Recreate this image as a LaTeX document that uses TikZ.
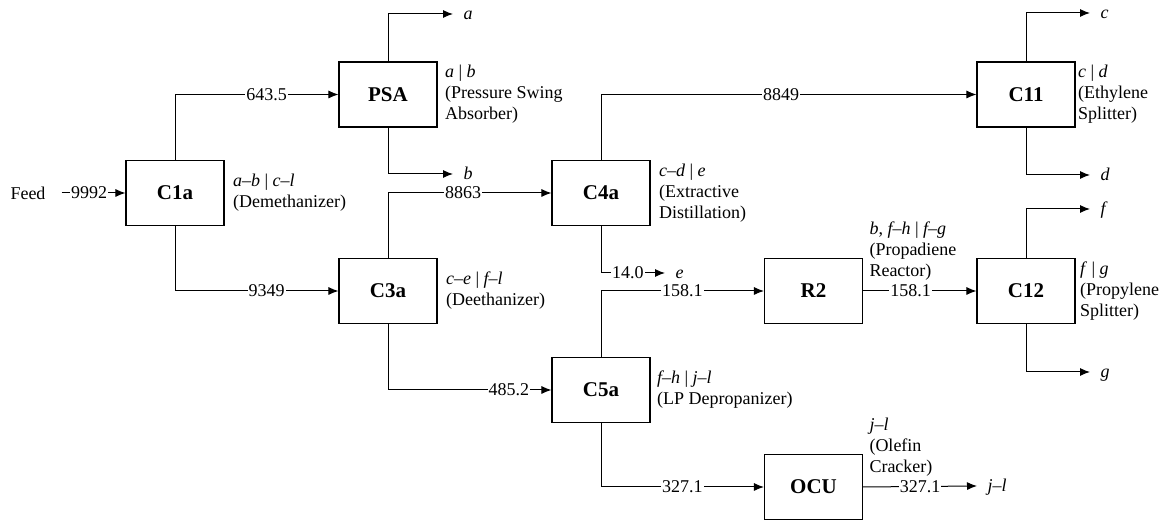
\documentclass[tikz,border=0pt]{standalone}
\usepackage{fontspec}
\setmainfont{Liberation Serif}
\usetikzlibrary{arrows.meta}

\begin{document}
\begin{tikzpicture}[x=0.5pt, y=-0.5pt, line width=0.5pt, >={Latex[length=5pt,width=4pt]}]
	% Stili per unità, note, portate e uscite
	\tikzset{
		unita/.style={draw, line width=0.55pt, minimum width=49pt, minimum height=32.5pt, inner sep=0pt, font=\fontsize{10.5}{12}\selectfont\bfseries},
		nota/.style={anchor=west, align=left, inner sep=0pt, font=\fontsize{9}{10.5}\selectfont},
		portata/.style={fill=white, inner sep=0.5pt, font=\fontsize{9}{10.5}\selectfont},
		uscita/.style={anchor=west, inner xsep=5pt, inner ysep=0pt, text height=1.4ex, text depth=0.3ex, font=\fontsize{9}{10.5}\selectfont\itshape}
	}
	\useasboundingbox (0,0) rectangle (1168,522);
	
	% Unità
	\node[unita] (C1a) at (175,193) {C1a};
	\node[unita] (PSA) at (388,94.5) {PSA};
	\node[unita] (C3a) at (388,291) {C3a};
	\node[unita] (C4a) at (601,193) {C4a};
	\node[unita] (C5a) at (601,390) {C5a};
	\node[unita] (R2) at (813.5,291) {R2};
	\node[unita] (OCU) at (813.5,487) {OCU};
	\node[unita] (C11) at (1026,94.5) {C11};
	\node[unita] (C12) at (1026,291) {C12};
	
	% Note sulle unità
	\node[nota] (nC1a) at ([xshift=4pt]C1a.east) {\textit{a–b} | \textit{c–l}\\(Demethanizer)};
	\node[nota] (nPSA) at ([xshift=3.5pt]PSA.east) {\textit{a} | \textit{b}\\(Pressure Swing\\Absorber)};
	\node[nota] (nC3a) at ([xshift=4pt]C3a.east) {\textit{c–e} | \textit{f–l}\\(Deethanizer)};
	\node[nota] (nC4a) at ([xshift=4pt]C4a.east) {\textit{c–d} | \textit{e}\\(Extractive\\Distillation)};
	\node[nota] (nC5a) at ([xshift=3pt]C5a.east) {\textit{f–h} | \textit{j–l}\\(LP Depropanizer)};
	\node[nota] (nR2) at (869,251) {\textit{b}, \textit{f–h} | \textit{f–g}\\(Propadiene\\Reactor)};
	\node[nota] (nOCU) at (869,447) {\textit{j–l}\\(Olefin\\Cracker)};
	\node[nota] (nC11) at ([xshift=1pt]C11.east) {\textit{c} | \textit{d}\\(Ethylene\\Splitter)};
	\node[nota] (nC12) at ([xshift=2pt]C12.east) {\textit{f} | \textit{g}\\(Propylene\\Splitter)};
	
	% Alimentazione e uscite
	\node (feed) at (28,193) {\fontsize{9}{10.5}\selectfont Feed};
	\node[uscita] (a) at (453,14) {a};
	\node[uscita] (b) at (453,174) {b};
	\node[uscita] (e) at (665,273) {e};
	\node[uscita] (c) at (1090,13) {c};
	\node[uscita] (d) at (1090,175) {d};
	\node[uscita] (f) at (1090,209) {f};
	\node[uscita] (g) at (1090,372) {g};
	\node[uscita] (jl) at (977,486) {j–l};
	
	% Correnti con portate
	\draw[->, shorten <=4.5pt] (feed.east) -- node[portata] {9992} (C1a.west);
	\draw[->] (C1a.north) |- node[portata, pos=0.78] {643.5} (PSA.west);
	\draw[->] (C1a.south) |- node[portata, pos=0.78] {9349} (C3a.west);
	\draw[->] (PSA.north) |- (a.west);
	\draw[->] (PSA.south) |- (b.west);
	\draw[->] (C3a.north) |- node[portata, pos=0.73] {8863} (C4a.west);
	\draw[->] (C3a.south) |- node[portata, pos=0.87] {485.2} (C5a.west);
	\draw[->] (C4a.north) |- node[portata, pos=0.74] {8849} (C11.west);
	\draw[->] (C4a.south) |- node[portata, pos=0.71] {14.0} (e.west);
	\draw[->] (C5a.north) |- node[portata, pos=0.75] {158.1} (R2.west);
	\draw[->] (C5a.south) |- node[portata, pos=0.75] {327.1} (OCU.west);
	\draw[->] (R2.east) -- node[portata, pos=0.42] {158.1} (C12.west);
	\draw[->] (OCU.east) -- node[portata] {327.1} (jl.west);
	\draw[->] (C11.north) |- (c.west);
	\draw[->] (C11.south) |- (d.west);
	\draw[->] (C12.north) |- (f.west);
	\draw[->] (C12.south) |- (g.west);
\end{tikzpicture}
\end{document}
